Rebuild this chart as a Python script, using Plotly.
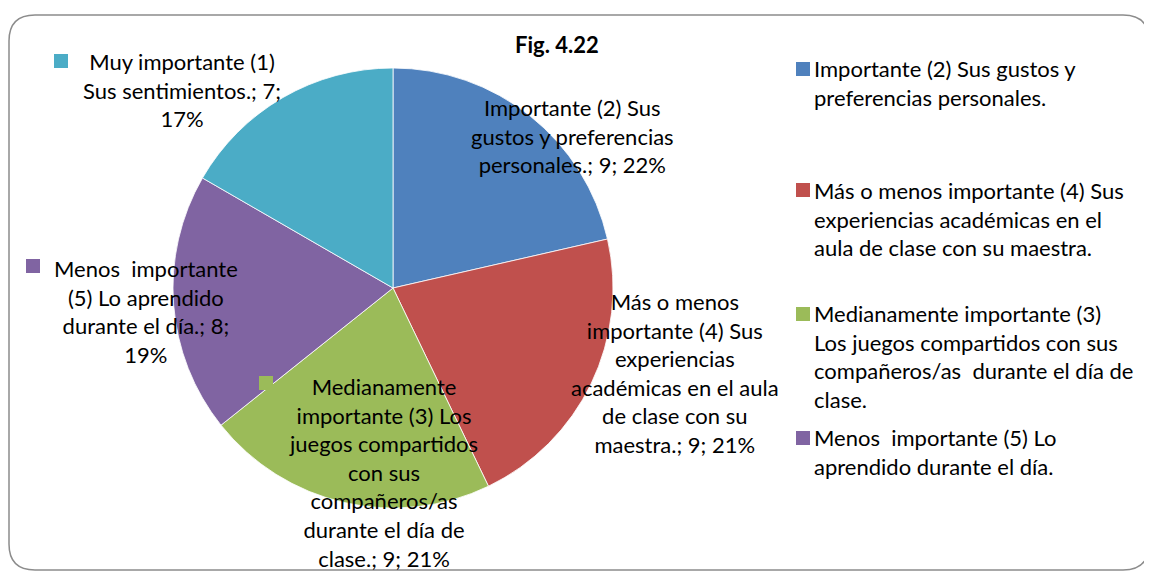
import plotly.graph_objects as go

# page body has an 8px margin; figure sized to fit the remaining viewport
OFF = 8
W, H = 1152 - OFF, 572 - OFF

categories = [
    "Importante (2) Sus gustos y preferencias personales.",
    "Más o menos importante (4) Sus experiencias académicas en el aula de clase con su maestra.",
    "Medianamente importante (3) Los juegos compartidos con sus compañeros/as  durante el día de clase.",
    "Menos  importante (5) Lo aprendido durante el día.",
    "Muy importante (1) Sus sentimientos.",
]
values = [9, 9, 9, 8, 7]
pct_labels = ["22%", "21%", "21%", "19%", "17%"]
colors = ["#4F81BD", "#C0504D", "#9BBB59", "#8064A2", "#4BACC6"]

FONT = "Lato"
FS = 22


def X(px):
    return (px - OFF) / W


def Y(py):
    return 1 - (py - OFF) / H


cx, cy, r = 393, 288, 220

fig = go.Figure(go.Pie(
    labels=categories, values=values, sort=False, direction="clockwise",
    rotation=0, marker=dict(colors=colors, line=dict(color="white", width=0.8)),
    textinfo="none", hoverinfo="label+value+percent", showlegend=False,
    domain=dict(x=[X(cx - r), X(cx + r)], y=[Y(cy + r), Y(cy - r)]),
))

# data label line breaks (display layout)
label_lines = [
    ["Importante (2) Sus", "gustos y preferencias", "personales.; {v}; {p}"],
    ["Más o menos", "importante (4) Sus", "experiencias", "académicas en el aula", "de clase con su", "maestra.; {v}; {p}"],
    ["Medianamente", "importante (3) Los", "juegos compartidos", "con sus", "compañeros/as", "durante el día de", "clase.; {v}; {p}"],
    ["Menos  importante", "(5) Lo aprendido", "durante el día.; {v};", "{p}"],
    ["Muy importante (1)", "Sus sentimientos.; {v};", "{p}"],
]
label_pos = [(572, 136), (675, 373), (383, 472), (146, 311), (182, 90)]
key_pos = {2: (266, 383), 3: (33, 266), 4: (61, 61)}

annotations = []
shapes = []
for i, lines in enumerate(label_lines):
    txt = "<br>".join(l.format(v=values[i], p=pct_labels[i]) for l in lines)
    x, y = label_pos[i]
    annotations.append(dict(x=X(x), y=Y(y), xref="paper", yref="paper", text=txt,
                            showarrow=False, xanchor="center", yanchor="middle",
                            align="center", font=dict(family=FONT, size=FS, color="black")))
    if i in key_pos:
        kx, ky = key_pos[i]
        shapes.append(dict(type="rect", xref="paper", yref="paper",
                           x0=X(kx - 7), x1=X(kx + 7), y0=Y(ky + 7), y1=Y(ky - 7),
                           fillcolor=colors[i], line=dict(width=0)))

# custom legend (right side)
legend_lines = [
    ["Importante (2) Sus gustos y", "preferencias personales."],
    ["Más o menos importante (4) Sus", "experiencias académicas en el", "aula de clase con su maestra."],
    ["Medianamente importante (3)", "Los juegos compartidos con sus", "compañeros/as  durante el día de", "clase."],
    ["Menos  importante (5) Lo", "aprendido durante el día."],
]
legend_top = [69, 190, 314, 438]
LH = 28.6
for i, lines in enumerate(legend_lines):
    y0 = legend_top[i]
    n = len(lines)
    ymid = y0 + (n - 1) * LH / 2
    annotations.append(dict(x=X(812), y=Y(ymid), xref="paper", yref="paper",
                            text="<br>".join(lines), showarrow=False,
                            xanchor="left", yanchor="middle", align="left",
                            font=dict(family=FONT, size=FS, color="black")))
    shapes.append(dict(type="rect", xref="paper", yref="paper",
                       x0=X(796), x1=X(810), y0=Y(y0 + 7), y1=Y(y0 - 7),
                       fillcolor=colors[i], line=dict(width=0)))

# title
annotations.append(dict(x=X(557), y=Y(45), xref="paper", yref="paper",
                        text="<b>Fig. 4.22</b>", showarrow=False,
                        xanchor="center", yanchor="middle",
                        font=dict(family=FONT, size=FS, color="black")))

# rounded frame
L, T, R, B, rr = 9, 15, 1149, 570, 26
path = (f"M {X(L + rr)},{Y(T)} L {X(R - rr)},{Y(T)} Q {X(R)},{Y(T)} {X(R)},{Y(T + rr)} "
        f"L {X(R)},{Y(B - rr)} Q {X(R)},{Y(B)} {X(R - rr)},{Y(B)} "
        f"L {X(L + rr)},{Y(B)} Q {X(L)},{Y(B)} {X(L)},{Y(B - rr)} "
        f"L {X(L)},{Y(T + rr)} Q {X(L)},{Y(T)} {X(L + rr)},{Y(T)} Z")
shapes.append(dict(type="path", xref="paper", yref="paper", path=path,
                   line=dict(color="#8C8C8C", width=1.5), fillcolor="rgba(0,0,0,0)"))

fig.update_layout(width=W, height=H, margin=dict(l=0, r=0, t=0, b=0),
                  paper_bgcolor="white", plot_bgcolor="white",
                  annotations=annotations, shapes=shapes,
                  font=dict(family=FONT, size=FS))
fig.write_html("out.html", config={"displayModeBar": False})
